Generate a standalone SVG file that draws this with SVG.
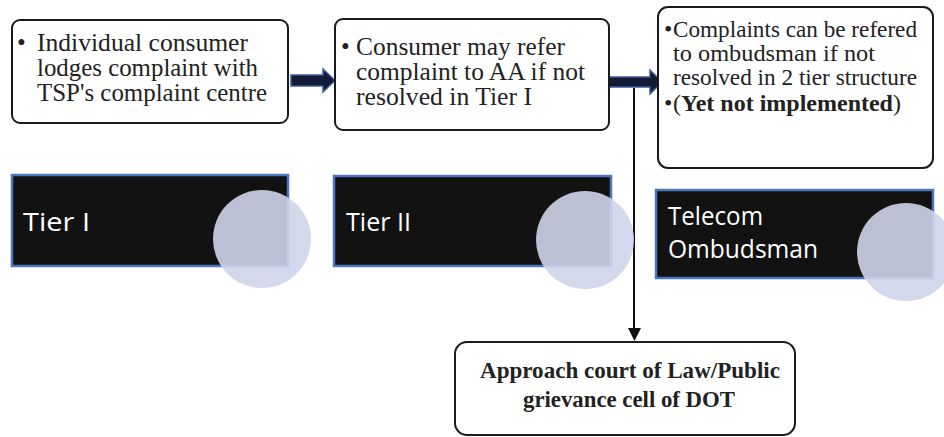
<svg xmlns="http://www.w3.org/2000/svg" width="944" height="437" viewBox="0 0 944 437">
<defs>
<style>
.box{fill:#fff;stroke:#1a1a1a;stroke-width:2}
.t{font-family:"Liberation Serif","Tinos","Times New Roman",serif;font-size:25px;fill:#222}
.t3{font-family:"Liberation Serif","Tinos","Times New Roman",serif;font-size:24px;fill:#222}
.tb{font-family:"Liberation Serif","Tinos","Times New Roman",serif;font-size:23px;font-weight:bold;fill:#222;text-anchor:middle}
.tier{fill:#121212;stroke:#4a76c0;stroke-width:2.5}
.tl{font-family:"Open Sans","Liberation Sans",sans-serif;font-size:26px;fill:#fff}
.circ{fill:#cfd4ea;opacity:0.9}
.arr{fill:#111b36;stroke:#3c5a96;stroke-width:1.5}
</style>
</defs>
<rect width="944" height="437" fill="#fff"/>

<g id="connectors">
<path class="arr" d="M291,75 L323,75 L323,69 L335,80.5 L323,92 L323,86 L291,86 z"/>
<path class="arr" d="M609,77 L650,77 L650,70 L662,82 L650,94 L650,87 L609,87 z"/>
<path d="M634,88 L634,328" stroke="#111" stroke-width="2" fill="none"/>
<path d="M628,328 L641,328 L634.5,341 z" fill="#111"/>
</g>

<g id="box1">
<rect class="box" x="12" y="20" width="276" height="103" rx="8"/>
<text class="t"><tspan x="17" y="51">•</tspan><tspan x="37" y="51" textLength="211" lengthAdjust="spacingAndGlyphs">Individual consumer</tspan><tspan x="37" y="76" textLength="221" lengthAdjust="spacingAndGlyphs">lodges complaint with</tspan><tspan x="37" y="101" textLength="230" lengthAdjust="spacingAndGlyphs">TSP's complaint centre</tspan></text>
</g>

<g id="box2">
<rect class="box" x="335" y="19" width="274" height="111" rx="8"/>
<text class="t"><tspan x="341" y="55">•</tspan><tspan x="356" y="55" textLength="209" lengthAdjust="spacingAndGlyphs">Consumer may refer</tspan><tspan x="356" y="80" textLength="229" lengthAdjust="spacingAndGlyphs">complaint to AA if not</tspan><tspan x="356" y="105" textLength="176" lengthAdjust="spacingAndGlyphs">resolved in Tier I</tspan></text>
</g>

<g id="box3">
<rect class="box" x="658" y="7" width="275" height="161" rx="10"/>
<text class="t3"><tspan x="664" y="37">•</tspan><tspan x="673" y="37" textLength="244" lengthAdjust="spacingAndGlyphs">Complaints can be refered</tspan><tspan x="673" y="61" textLength="202" lengthAdjust="spacingAndGlyphs">to ombudsman if not</tspan><tspan x="673" y="85" textLength="244" lengthAdjust="spacingAndGlyphs">resolved in 2 tier structure</tspan><tspan x="664" y="111">•</tspan><tspan x="673" y="111">(</tspan><tspan font-weight="bold">Yet not implemented</tspan><tspan>)</tspan></text>
</g>

<g id="tier1">
<rect class="tier" x="12" y="175" width="276" height="91"/>
<text class="tl" x="23" y="231" textLength="67" lengthAdjust="spacingAndGlyphs">Tier I</text>
<circle class="circ" cx="262" cy="239" r="49"/>
</g>

<g id="tier2">
<rect class="tier" x="334" y="176" width="277" height="90"/>
<text class="tl" x="346" y="231" textLength="65" lengthAdjust="spacingAndGlyphs">Tier II</text>
<circle class="circ" cx="585" cy="240" r="49"/>
</g>

<g id="ombudsman">
<rect class="tier" x="656" y="190" width="277" height="88"/>
<text class="tl"><tspan x="668" y="225" textLength="95" lengthAdjust="spacingAndGlyphs">Telecom</tspan><tspan x="668" y="258" textLength="150" lengthAdjust="spacingAndGlyphs">Ombudsman</tspan></text>
<circle class="circ" cx="906" cy="252" r="49"/>
</g>

<g id="court">
<rect class="box" x="455" y="342" width="340" height="93" rx="12"/>
<text class="tb"><tspan x="630" y="378" textLength="300" lengthAdjust="spacingAndGlyphs">Approach court of Law/Public</tspan><tspan x="629" y="407" textLength="212" lengthAdjust="spacingAndGlyphs">grievance cell of DOT</tspan></text>
</g>
</svg>
